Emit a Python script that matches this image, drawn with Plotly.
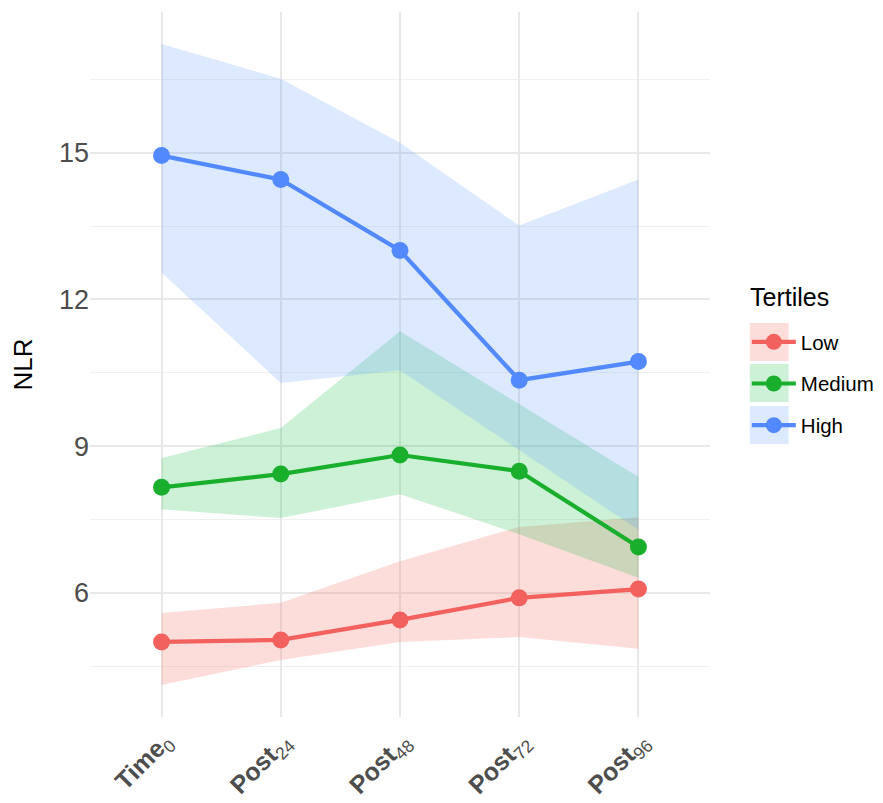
import plotly.graph_objects as go

categories = ["Time0", "Post24", "Post48", "Post72", "Post96"]
tick_labels = ["<b>Time</b><sub>0</sub>", "<b>Post</b><sub>24</sub>", "<b>Post</b><sub>48</sub>",
               "<b>Post</b><sub>72</sub>", "<b>Post</b><sub>96</sub>"]

low_mean = [5.00, 5.04, 5.45, 5.90, 6.08]
low_upper = [5.59, 5.80, 6.65, 7.35, 7.55]
low_lower = [4.12, 4.63, 5.00, 5.10, 4.86]

med_mean = [8.16, 8.43, 8.82, 8.49, 6.94]
med_upper = [8.76, 9.37, 11.35, 9.86, 8.37]
med_lower = [7.71, 7.53, 8.02, 7.20, 6.31]

high_mean = [14.94, 14.45, 13.00, 10.35, 10.73]
high_upper = [17.22, 16.51, 15.20, 13.51, 14.45]
high_lower = [12.55, 10.29, 10.55, 8.92, 7.29]

series = [
    ("Low", low_mean, low_upper, low_lower, "#F2615E", "rgba(248,118,109,0.25)"),
    ("Medium", med_mean, med_upper, med_lower, "#19AE2C", "rgba(0,186,56,0.2)"),
    ("High", high_mean, high_upper, high_lower, "#5289FF", "rgba(97,156,255,0.22)"),
]

W, H = 875, 795
ML, MR, MT, MB = 82, 170, 4, 86
PW, PH = W - ML - MR, H - MT - MB


def px_to_paper_x(px):
    return (px - ML) / PW


def px_to_paper_y(py):
    return (H - MB - py) / PH


x_idx = list(range(len(categories)))
fig = go.Figure()

# ribbons
for name, mean, up, lo, col, fillcol in series:
    fig.add_trace(go.Scatter(x=x_idx, y=lo, mode="lines", line=dict(width=0),
                             showlegend=False, hoverinfo="skip", legendgroup=name))
    fig.add_trace(go.Scatter(x=x_idx, y=up, mode="lines", line=dict(width=0), legendgroup=name,
                             fill="tonexty", fillcolor=fillcol, showlegend=False, hoverinfo="skip"))

# lines + legend entries
for i, (name, mean, up, lo, col, fillcol) in enumerate(series):
    fig.add_trace(go.Scatter(x=x_idx, y=mean, mode="lines+markers", name=name,
                             legendgroup=name,
                             line=dict(color=col, width=4.2),
                             marker=dict(color=col, size=17), showlegend=True))

# legend key backgrounds (ribbon colour boxes)
key_left, key_right = 745, 784
key_tops = [315, 356, 398]
key_h = 38
shapes = []
for (name, mean, up, lo, col, fillcol), top in zip(series, key_tops):
    shapes.append(dict(type="rect", xref="paper", yref="paper",
                       x0=px_to_paper_x(key_left), x1=px_to_paper_x(key_right),
                       y0=px_to_paper_y(top + key_h), y1=px_to_paper_y(top),
                       fillcolor=fillcol, line=dict(width=0), layer="above"))

fig.update_layout(
    width=W, height=H,
    margin=dict(l=ML, r=MR, t=MT, b=MB),
    plot_bgcolor="white", paper_bgcolor="white",
    font=dict(family="Liberation Sans, Arial, sans-serif", color="black"),
    legend=dict(font=dict(size=20.5),
                x=px_to_paper_x(742), y=px_to_paper_y(314), xanchor="left", yanchor="top",
                itemsizing="trace", traceorder="grouped", tracegroupgap=12,
                bgcolor="rgba(0,0,0,0)", itemwidth=44),
    annotations=[dict(text="Tertiles", xref="paper", yref="paper",
                      x=px_to_paper_x(743), y=px_to_paper_y(289), xanchor="left", yanchor="middle",
                      showarrow=False, font=dict(size=25, color="black"))],
    shapes=shapes,
    showlegend=True,
)
fig.update_xaxes(
    tickmode="array", tickvals=x_idx, ticktext=tick_labels, tickangle=-45,
    range=[-0.6, 4.6], showgrid=True, gridcolor="#e8e8e8", gridwidth=2,
    zeroline=False, showline=False, ticks="", automargin=False,
    tickfont=dict(size=25, color="#4d4d4d"), ticklabelstandoff=4, ticklabelshift=3,
)
fig.update_yaxes(
    title=dict(text="NLR", font=dict(size=26), standoff=19),
    tickvals=[6, 9, 12, 15], range=[3.465, 17.875],
    showgrid=True, gridcolor="#e8e8e8", gridwidth=2, zeroline=False, showline=False, ticks="",
    automargin=False,
    tickfont=dict(size=27, color="#4d4d4d"),
    minor=dict(tickvals=[4.5, 7.5, 10.5, 13.5, 16.5], showgrid=True, gridcolor="#f0f0f0", gridwidth=1.2),
)

fig.write_html("out.html")
